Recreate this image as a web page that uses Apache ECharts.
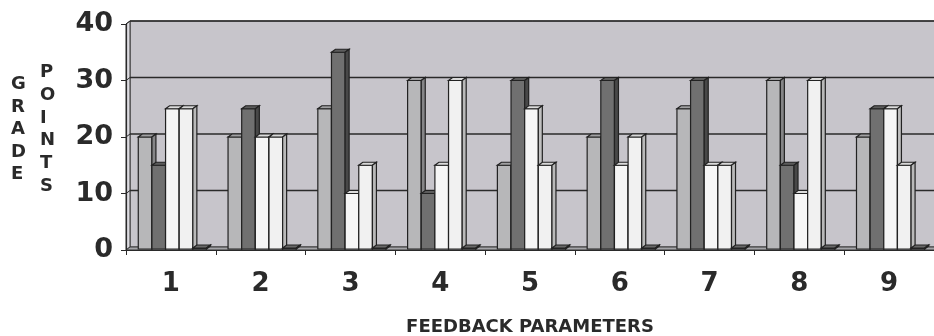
<!DOCTYPE html>
<html>
<head>
<meta charset="utf-8">
<script src="https://cdn.jsdelivr.net/npm/echarts@6/dist/echarts.min.js"></script>
<style>
  html, body { margin: 0; padding: 0; background: #ffffff; }
  #chart { width: 934px; height: 336px; }
</style>
</head>
<body>
<div id="chart"></div>
<script>
// Feedback parameters on the category axis, grade points on the value axis
const categories = ['1', '2', '3', '4', '5', '6', '7', '8', '9'];
const yTicks = [0, 10, 20, 30, 40];

const seriesA = [20, 20, 25, 30, 15, 20, 25, 30, 20];
const seriesB = [15, 25, 35, 10, 30, 30, 30, 15, 25];
const seriesC = [25, 20, 10, 15, 25, 15, 15, 10, 25];
const seriesD = [25, 20, 15, 30, 15, 20, 15, 30, 15];
const seriesE = [0.3, 0.3, 0.3, 0.3, 0.3, 0.3, 0.3, 0.3, 0.3];

const FONT = '"DejaVu Sans", Verdana, sans-serif';
const INK = '#2a2a2a';
const DX = 4, DY = -3;          // depth offset of the 3D look
const BAR_FRAC = 0.152;         // bar width as a share of the category band
const N_BARS = 5;

const palettes = [
  { front: '#b7b7b9', top: '#a0a0a2', side: '#858587' },
  { front: '#707070', top: '#5c5c5c', side: '#484848' },
  { front: '#f6f6f6', top: '#dcdcdc', side: '#c0c0c0' },
  { front: '#f1f1f1', top: '#d8d8d8', side: '#b9b9b9' },
  { front: '#585858', top: '#686868', side: '#3c3c3c' }
];

function barRenderer(slot) {
  const pal = palettes[slot];
  return function (params, api) {
    const cat = api.value(0);
    const val = api.value(1);
    const band = api.size([1, 0])[0];
    const bw = band * BAR_FRAC;
    const p0 = api.coord([cat, 0]);
    const p1 = api.coord([cat, val]);
    const x0 = p0[0] - (N_BARS * bw) / 2 + 1.5 + slot * bw;
    const x1 = x0 + bw;
    const yb = p0[1] - 1;
    const yt = Math.min(p1[1], yb - 1);
    const stroke = { stroke: '#222222', lineWidth: 1.2 };
    return {
      type: 'group',
      children: [
        { type: 'polygon', shape: { points: [[x0, yb], [x1, yb], [x1, yt], [x0, yt]] },
          style: Object.assign({ fill: pal.front }, stroke) },
        { type: 'polygon', shape: { points: [[x0, yt], [x1, yt], [x1 + DX, yt + DY], [x0 + DX, yt + DY]] },
          style: Object.assign({ fill: pal.top }, stroke) },
        { type: 'polygon', shape: { points: [[x1, yb], [x1 + DX, yb + DY], [x1 + DX, yt + DY], [x1, yt]] },
          style: Object.assign({ fill: pal.side }, stroke) }
      ]
    };
  };
}

// Back wall, side wall, floor and the gridlines painted on the wall
function wallRenderer(params, api) {
  const cs = params.coordSys;
  const left = cs.x, right = cs.x + cs.width;
  const top = cs.y, bottom = cs.y + cs.height;
  const kids = [
    { type: 'rect', shape: { x: left + DX, y: top + DY, width: cs.width, height: cs.height },
      style: { fill: '#c7c5cb', stroke: '#3a3a3a', lineWidth: 1 } },
    { type: 'polygon', shape: { points: [[left, bottom], [left + DX, bottom + DY], [left + DX, top + DY], [left, top]] },
      style: { fill: '#dddce1', stroke: '#3a3a3a', lineWidth: 1 } },
    { type: 'polygon', shape: { points: [[left, bottom], [right, bottom], [right + DX, bottom + DY], [left + DX, bottom + DY]] },
      style: { fill: '#a4a4a8', stroke: '#3a3a3a', lineWidth: 1 } }
  ];
  yTicks.forEach(function (t) {
    if (t === 0) return;
    const y = api.coord([0, t])[1];
    kids.push({ type: 'line', shape: { x1: left + DX, y1: y + DY, x2: right + DX, y2: y + DY },
      style: { stroke: '#2a2a2a', lineWidth: 1.4 } });
    kids.push({ type: 'line', shape: { x1: left, y1: y, x2: left + DX, y2: y + DY },
      style: { stroke: '#2a2a2a', lineWidth: 1 } });
  });
  return { type: 'group', children: kids };
}

function toPairs(arr) {
  return arr.map(function (v, i) { return [i, v]; });
}

const chart = echarts.init(document.getElementById('chart'), null, { renderer: 'canvas' });

const allSeries = [seriesA, seriesB, seriesC, seriesD, seriesE];

chart.setOption({
  animation: false,
  backgroundColor: '#ffffff',
  grid: { left: 126, right: 0, top: 24, bottom: 86, containLabel: false, outerBoundsMode: 'none' },
  xAxis: {
    type: 'category',
    data: categories,
    boundaryGap: true,
    name: 'FEEDBACK PARAMETERS',
    nameLocation: 'middle',
    nameGap: 68,
    nameTextStyle: { fontFamily: FONT, fontWeight: 'bold', fontSize: 18, color: INK },
    axisLine: { show: true, lineStyle: { color: '#2a2a2a', width: 1.2 } },
    axisTick: { show: true, length: 5, interval: 0, lineStyle: { color: '#2a2a2a' } },
    axisLabel: { fontFamily: FONT, fontWeight: 'bold', fontSize: 26, color: INK, margin: 21 },
    splitLine: { show: false },
    z: 10
  },
  yAxis: {
    type: 'value',
    min: 0,
    max: 40,
    interval: 10,
    axisLine: { show: true, lineStyle: { color: '#2a2a2a', width: 1.2 } },
    axisTick: { show: true, length: 5, lineStyle: { color: '#2a2a2a' } },
    axisLabel: { fontFamily: FONT, fontWeight: 'bold', fontSize: 27, color: INK, margin: 13,
      padding: [6, 0, 0, 0] },
    splitLine: { show: false },
    z: 10
  },
  graphic: [
    { type: 'text', left: 11, top: 73,
      style: { text: 'G\nR\nA\nD\nE', font: 'bold 18px ' + FONT, fill: INK, lineHeight: 22.6, align: 'center' } },
    { type: 'text', left: 40, top: 61,
      style: { text: 'P\nO\nI\nN\nT\nS', font: 'bold 18px ' + FONT, fill: INK, lineHeight: 22.8, align: 'center' } }
  ],
  series: [
    { type: 'custom', name: 'wall', renderItem: wallRenderer, data: [[0, 0]], clip: false, z: 1, silent: true }
  ].concat(allSeries.map(function (arr, i) {
    return { type: 'custom', name: 'series' + (i + 1), renderItem: barRenderer(i), data: toPairs(arr), clip: false, z: 2 };
  }))
});
</script>
</body>
</html>
